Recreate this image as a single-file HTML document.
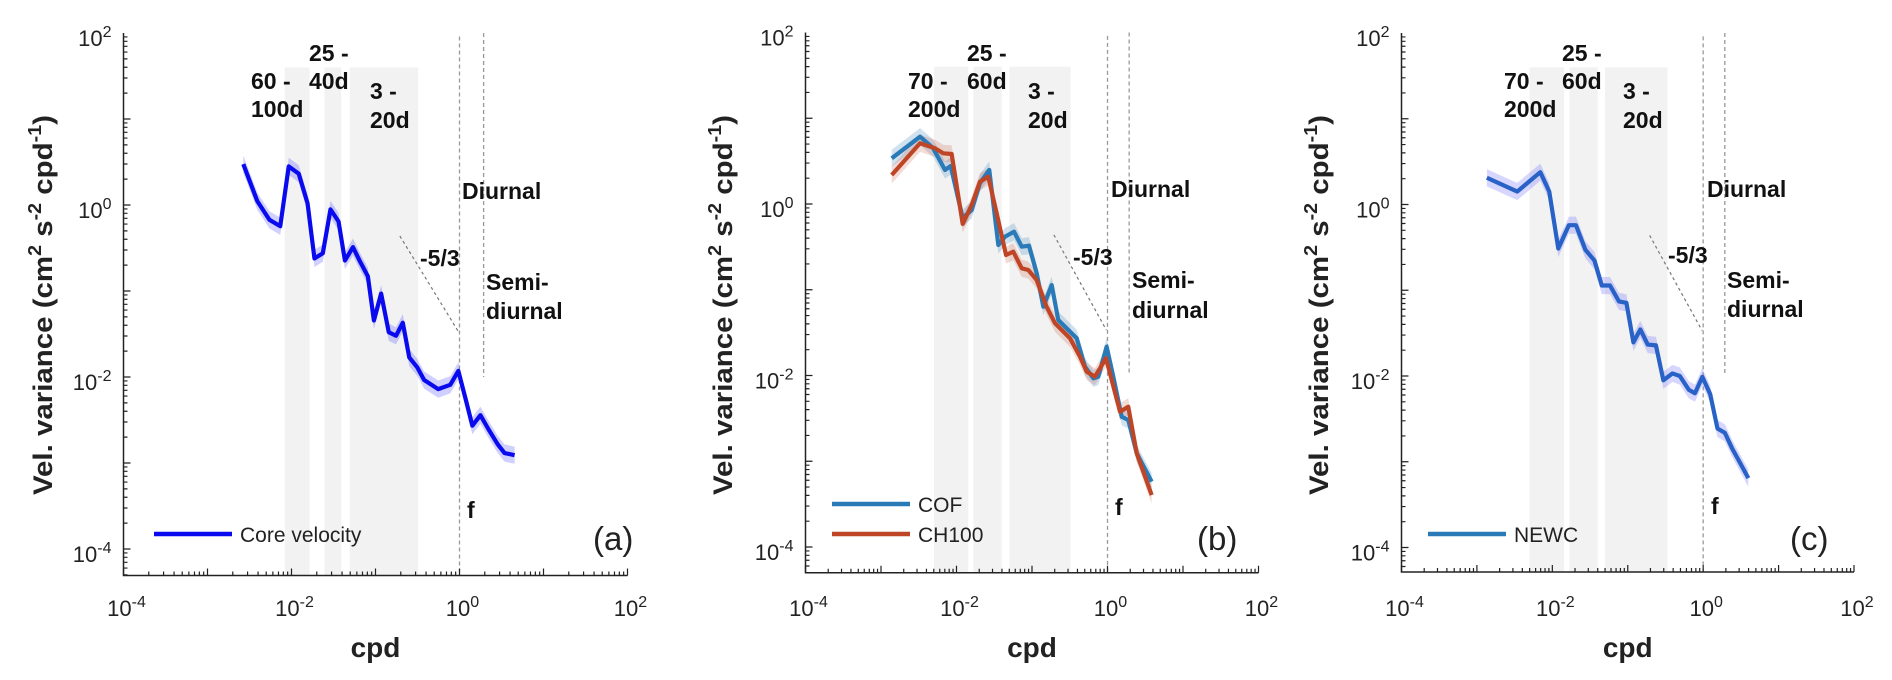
<!DOCTYPE html>
<html><head><meta charset="utf-8"><style>
html,body{margin:0;padding:0;background:#fff;}
svg{display:block;font-family:"Liberation Sans",Arial,sans-serif;}
</style></head><body>
<svg id="chart" width="1892" height="680" viewBox="0 0 1892 680" xmlns="http://www.w3.org/2000/svg"></svg>
<script>
// ---- data (log10 cpd, log10 variance) ----
const coreX = [-2.574,-2.407,-2.263,-2.134,-2.033,-1.914,-1.809,-1.727,-1.627,-1.536,-1.440,-1.364,-1.268,-1.187,-1.091,-1.019,-0.933,-0.842,-0.756,-0.675,-0.598,-0.502,-0.421,-0.254,-0.110,-0.014,0.072,0.153,0.249,0.344,0.455,0.536,0.656];
const coreY = [0.475,0.045,-0.172,-0.247,0.449,0.364,0.02,-0.621,-0.561,-0.051,-0.192,-0.646,-0.490,-0.652,-0.828,-1.343,-1.030,-1.480,-1.520,-1.369,-1.773,-1.889,-2.035,-2.141,-2.091,-1.929,-2.253,-2.566,-2.444,-2.606,-2.783,-2.884,-2.909];
const cofX = [-2.858,-2.483,-2.311,-2.152,-2.077,-1.918,-1.799,-1.689,-1.566,-1.446,-1.358,-1.238,-1.136,-1.040,-0.938,-0.850,-0.739,-0.652,-0.408,-0.298,-0.188,-0.122,-0.011,0.077,0.188,0.275,0.387,0.585];
const cofY = [0.533,0.785,0.653,0.397,0.443,-0.163,-0.070,0.245,0.397,-0.478,-0.381,-0.323,-0.498,-0.486,-0.805,-1.198,-0.945,-1.353,-1.566,-1.897,-2.033,-2.014,-1.664,-2.014,-2.481,-2.519,-2.907,-3.238];
const chX = [-2.858,-2.483,-2.285,-2.175,-2.064,-1.918,-1.799,-1.689,-1.579,-1.468,-1.344,-1.248,-1.136,-1.049,-0.938,-0.811,-0.695,-0.497,-0.364,-0.275,-0.166,-0.020,0.166,0.275,0.387,0.585];
const chY = [0.338,0.708,0.650,0.591,0.583,-0.233,-0.012,0.260,0.318,-0.108,-0.595,-0.556,-0.750,-0.770,-0.886,-1.190,-1.391,-1.566,-1.781,-1.956,-2.014,-1.799,-2.422,-2.364,-2.907,-3.394];
const newcX = [-2.868,-2.465,-2.160,-2.041,-1.921,-1.780,-1.687,-1.562,-1.442,-1.344,-1.235,-1.116,-1.018,-0.925,-0.833,-0.735,-0.626,-0.528,-0.408,-0.310,-0.190,-0.109,-0.011,0.093,0.190,0.288,0.381,0.490,0.599];
const newcY = [0.312,0.151,0.377,0.151,-0.513,-0.241,-0.241,-0.528,-0.653,-0.945,-0.945,-1.131,-1.146,-1.608,-1.457,-1.633,-1.643,-2.050,-1.970,-2.000,-2.161,-2.201,-2.010,-2.211,-2.613,-2.663,-2.839,-3.015,-3.191];
const bandsA = [[-2.08,-1.785],[-1.608,-1.407],[-1.306,-0.493]];
const bandsB = [[-2.298,-1.844],[-1.778,-1.401],[-1.300,-0.487]];
const bandsC = [[-2.302,-1.845],[-1.774,-1.399],[-1.301,-0.473]];
const xTickExp = [-4,-2,0,2];
const yTickExp = [-4,-2,0,2];

const NS="http://www.w3.org/2000/svg";
const svg=document.getElementById('chart');
function mk(tag,attrs,parent){const e=document.createElementNS(NS,tag);for(const k in attrs)e.setAttribute(k,attrs[k]);(parent||svg).appendChild(e);return e;}

const panels=[
 {id:'a',xl:123.5,xr:627.5,yTop:33,dec:86,bottom:575.5,bands:bandsA,
  series:[{x:coreX,y:coreY,c:'#0a0aee',s:'rgba(40,40,255,0.22)',n:'core-velocity-line'}],
  legend:[['Core velocity','#0a0aee']],legX:154,legY:[534],letterX:593,
  ylabX:52,
  labels:[['60 -',251,89],['100d',251,117],['25 -',309,61],['40d',309,89],['3 -',370,99],['20d',370,128],['Diurnal',462,199],['-5/3',420,266],['Semi-',486,290],['diurnal',486,319],['f',467,518]]},
 {id:'b',xl:805.5,xr:1258.5,yTop:32.5,dec:85.75,bottom:572.7,bands:bandsB,
  series:[{x:cofX,y:cofY,c:'#2a7ab8',s:'rgba(42,122,184,0.22)',n:'cof-line'},{x:chX,y:chY,c:'#bf4527',s:'rgba(200,80,50,0.2)',n:'ch100-line'}],
  legend:[['COF','#2a7ab8'],['CH100','#bf4527']],legX:832,legY:[504,534],letterX:1197,
  ylabX:732,
  labels:[['70 -',908,89],['200d',908,117],['25 -',967,61],['60d',967,89],['3 -',1028,99],['20d',1028,128],['Diurnal',1111,197],['-5/3',1073,265],['Semi-',1132,288],['diurnal',1132,318],['f',1115,515]]},
 {id:'c',xl:1401.5,xr:1854,yTop:33,dec:85.75,bottom:572,bands:bandsC,
  series:[{x:newcX,y:newcY,c:'#2862c6',s:'rgba(90,90,255,0.25)',n:'newc-line'}],
  legend:[['NEWC','#2a7ab8']],legX:1428,legY:[534],letterX:1790,
  ylabX:1328,
  labels:[['70 -',1504,89],['200d',1504,117],['25 -',1562,61],['60d',1562,89],['3 -',1623,99],['20d',1623,128],['Diurnal',1707,197],['-5/3',1668,263],['Semi-',1727,288],['diurnal',1727,317],['f',1711,514]]}
];

panels.forEach(p=>{
  const g=mk('g',{});
  
  
  const dx=(p.xr-p.xl)/6;
  const X=v=>p.xl+(v+4)*dx;
  const Y=v=>p.yTop+(2-v)*p.dec;
  p.bands.forEach((b,i)=>{
    const r=mk('rect',{x:X(b[0]),y:Y(1.6),width:X(b[1])-X(b[0]),height:p.bottom-Y(1.6),fill:'#f2f2f2'},g);
    
    
  });
  const f=mk('line',{x1:X(0),x2:X(0),y1:Y(1.96),y2:p.bottom,stroke:'#999','stroke-width':1.3,'stroke-dasharray':'4,3'},g);
  
  
  const sd=mk('line',{x1:X(0.287),x2:X(0.287),y1:Y(2),y2:Y(-2),stroke:'#999','stroke-width':1.3,'stroke-dasharray':'4,3'},g);
  
  
  const sl=mk('line',{x1:X(-0.71),y1:Y(-0.36),x2:X(-0.015),y2:Y(-1.47),stroke:'#777','stroke-width':1.2,'stroke-dasharray':'3,3'},g);
  
  
  p.series.forEach(s=>{
    const up=s.x.map((v,i)=>X(v)+','+Y(s.y[i]+0.1));
    const lo=s.x.map((v,i)=>X(v)+','+Y(s.y[i]-0.1)).reverse();
    const sh=mk('polygon',{points:up.concat(lo).join(' '),fill:s.s},g);
    
    
  });
  p.series.forEach(s=>{
    const pts=s.x.map((v,i)=>X(v)+','+Y(s.y[i])).join(' ');
    const l=mk('polyline',{points:pts,fill:'none',stroke:s.c,'stroke-width':4.2,'stroke-linejoin':'round'},g);
    
    
  });
  const ax=mk('path',{d:`M${p.xl},${p.yTop}V${p.bottom}H${p.xr}`,fill:'none',stroke:'#222','stroke-width':1.5},g);
  
  
  let td='';
  for(let e=-5;e<2;e++){for(let m=1;m<10;m++){const v=e+Math.log10(m);const yy=Y(v);if(yy<p.yTop-0.5||yy>p.bottom)continue;td+=`M${p.xl},${yy}h${m===1?7:4}`;}}
  for(let e=-4;e<2;e++){for(let m=1;m<10;m++){const v=e+Math.log10(m);td+=`M${X(v)},${p.bottom}v${m===1?-7:-4}`;}}
  td+=`M${X(2)},${p.bottom}v-7`;
  mk('path',{d:td,stroke:'#222','stroke-width':1.2,fill:'none'},g);
  yTickExp.forEach(e=>{
    const t=mk('text',{x:p.xl-12,y:Y(e)+13,'text-anchor':'end','font-size':22,fill:'#222'},g);
    
    
    t.innerHTML=`10<tspan dy="-9" font-size="16">${e}</tspan>`;
  });
  xTickExp.forEach(e=>{
    const t=mk('text',{x:X(e)+3,y:616,'text-anchor':'middle','font-size':22,fill:'#222'},g);
    
    
    t.innerHTML=`10<tspan dy="-9" font-size="16">${e}</tspan>`;
  });
  const xt=mk('text',{x:(p.xl+p.xr)/2,y:657,'text-anchor':'middle','font-size':28,'font-weight':'bold',fill:'#222'},g);
  
  
  xt.textContent='cpd';
  const yt=mk('text',{x:0,y:0,'text-anchor':'middle','font-size':27,'font-weight':'bold',fill:'#222',transform:`translate(${p.ylabX},305) rotate(-90)`,textLength:380,lengthAdjust:'spacingAndGlyphs'},g);
  
  
  yt.innerHTML='Vel. variance (cm<tspan dy="-11" font-size="18">2</tspan><tspan dy="11"> s</tspan><tspan dy="-11" font-size="18">-2</tspan><tspan dy="11"> cpd</tspan><tspan dy="-11" font-size="18">-1</tspan><tspan dy="11">)</tspan>';
  p.labels.forEach(l=>{
    const t=mk('text',{x:l[1],y:l[2],'font-size':23,'font-weight':'bold',fill:'#111'},g);
    
    
    t.textContent=l[0];
  });
  p.legend.forEach((L,i)=>{
    const ly=p.legY[i];
    const ln=mk('line',{x1:p.legX,x2:p.legX+78,y1:ly,y2:ly,stroke:L[1],'stroke-width':4.5},g);
    
    
    const t=mk('text',{x:p.legX+86,y:ly+8,'font-size':21,fill:'#222'},g);
    
    
    t.textContent=L[0];
  });
  const pl=mk('text',{x:p.letterX,y:550,'font-size':33,fill:'#222'},g);
  
  
  pl.textContent='('+p.id+')';
});
</script>
</body></html>
